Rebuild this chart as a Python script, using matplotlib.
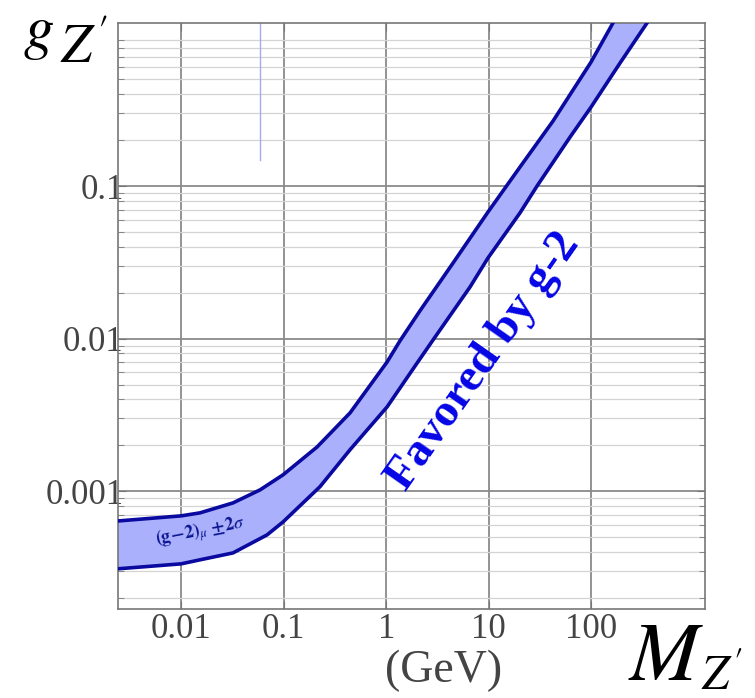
import numpy as np
import matplotlib
matplotlib.use("Agg")
import matplotlib.pyplot as plt

plt.rcParams["font.family"] = ["Liberation Serif", "DejaVu Serif"]
plt.rcParams["mathtext.fontset"] = "stix"

# Band edges of the (g-2)_mu +-2 sigma region
upper_mass = [0.00243, 0.01, 0.0153, 0.0321, 0.0589, 0.0987, 0.212, 0.444,
              1.02, 1.36, 2.13, 4.48, 9.82, 20.1, 42.3, 99.1, 162]
upper_g = [6.38e-4, 6.89e-4, 7.21e-4, 8.38e-4, 1.02e-3, 1.28e-3, 1.95e-3,
           3.26e-3, 7.03e-3, 9.66e-3, 0.0152, 0.0313, 0.0676, 0.133, 0.267,
           0.649, 1.17]
lower_mass = [0.00243, 0.01, 0.0153, 0.0321, 0.0689, 0.0987, 0.226, 0.444,
              1.02, 2.0, 2.86, 6.56, 9.82, 20.1, 29.5, 61.8, 99.1, 190, 348]
lower_g = [3.10e-4, 3.34e-4, 3.55e-4, 3.94e-4, 5.17e-4, 6.29e-4, 1.07e-3,
           1.87e-3, 3.57e-3, 6.92e-3, 9.8e-3, 0.0218, 0.0338, 0.0666, 0.1,
           0.209, 0.329, 0.640, 1.17]

x_ticks = [0.01, 0.1, 1, 10, 100]
x_tick_labels = ["0.01", "0.1", "1", "10", "100"]
y_ticks = [0.001, 0.01, 0.1]
y_tick_labels = ["0.001", "0.01", "0.1"]

fig = plt.figure(figsize=(7.55, 6.98), dpi=100)
ax = fig.add_axes([0.1563, 0.1275, 0.7775, 0.8395])
ax.set_xscale("log")
ax.set_yscale("log")
ax.set_xlim(0.00243, 1280)
ax.set_ylim(1.69e-4, 1.17)

# grid
ax.grid(which="major", color="#8a8a8a", lw=1.3)
ax.grid(which="minor", color="#d4d4d4", lw=0.9)
ax.set_axisbelow(True)

# band
poly_x = np.concatenate([upper_mass, lower_mass[::-1]])
poly_y = np.concatenate([upper_g, lower_g[::-1]])
ax.fill(poly_x, poly_y, color="#aab0fb", lw=0, zorder=2)
ax.plot(upper_mass, upper_g, color="#0a0aa0", lw=2.6, zorder=3,
        solid_joinstyle="round")
ax.plot(lower_mass, lower_g, color="#0a0aa0", lw=2.6, zorder=3,
        solid_joinstyle="round")

# faint stray line from the original figure
ax.plot([0.059, 0.059], [0.148, 1.17], color="#a8a8f0", lw=1.0, zorder=1)

ax.text(0.0153, 5.4e-4, r"$\mathbf{(g\!-\!2)}_{\mu}\ \mathbf{\pm 2}\sigma$",
        color="#0a1490", fontsize=13, rotation=11, ha="center", va="center",
        zorder=4)
ax.text(8.97, 0.00703, "Favored by g-2", color="#0505e6", fontsize=34,
        fontweight="bold", rotation=55, ha="center", va="center",
        rotation_mode="anchor", zorder=4)

ax.set_xticks(x_ticks)
ax.set_xticklabels(x_tick_labels)
ax.set_yticks(y_ticks)
ax.set_yticklabels(y_tick_labels)
ax.tick_params(which="both", direction="in", top=True, right=True,
               colors="#777777", labelcolor="#444444", labelsize=25)
ax.tick_params(which="major", length=6, pad=3)
ax.tick_params(which="minor", length=4)
ax.tick_params(axis="y", pad=-4)
for s in ax.spines.values():
    s.set_color("#777777")
    s.set_linewidth(1.2)

fig.text(0.031, 0.933, r"$g$", fontsize=44, ha="left", va="baseline")
fig.text(0.0795, 0.910, r"$Z'$", fontsize=40, ha="left", va="baseline")
fig.text(0.832, 0.0258, r"$M$", fontsize=60, ha="left", va="baseline")
fig.text(0.929, 0.012, r"$Z'$", fontsize=35, ha="left", va="baseline")
fig.text(0.587, 0.039, "(GeV)", fontsize=33, color="#444444",
         ha="center", va="center")

fig.savefig("out.png", dpi=100)
